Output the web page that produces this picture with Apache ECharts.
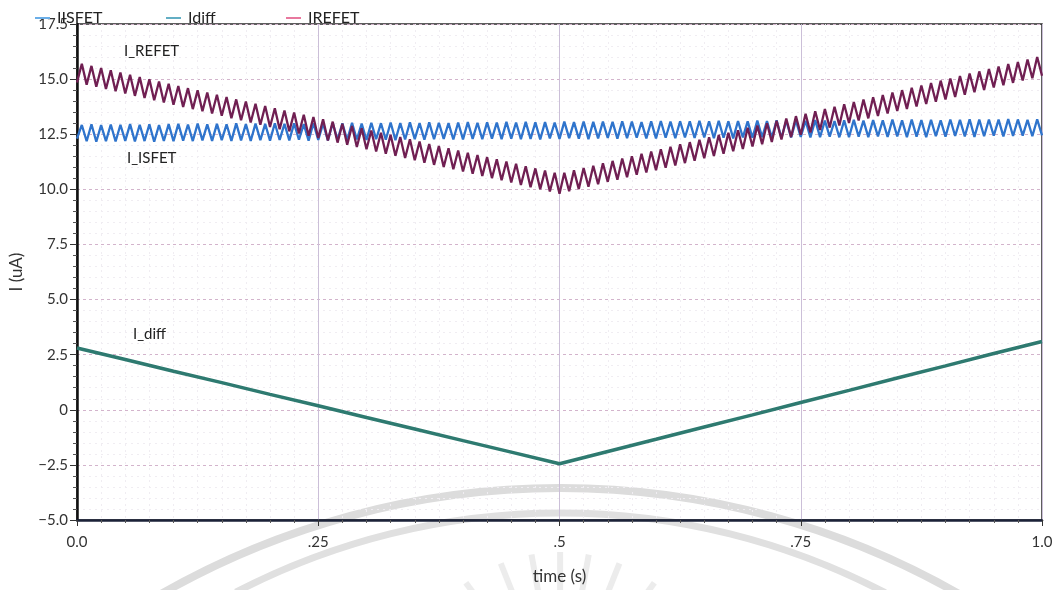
<!DOCTYPE html>
<html>
<head>
<meta charset="utf-8">
<script src="https://cdn.jsdelivr.net/npm/echarts@6/dist/echarts.min.js"></script>
<style>
  html, body { margin: 0; padding: 0; background: #fff; }
  #chart { width: 1059px; height: 590px; }
</style>
</head>
<body>
<div id="chart"></div>
<script>
// sample step of the transient simulation (s)
const dtFast = 0.005;
const dtDiff = 0.05;

// I_ISFET (uA), one value per half ripple
const isfet = [
  12.30, 12.92, 12.18, 12.95, 12.16, 12.91, 12.19, 12.94, 12.17, 12.93,
  12.20, 12.96, 12.17, 12.93, 12.19, 12.95, 12.16, 12.92, 12.20, 12.96,
  12.18, 12.97, 12.21, 12.94, 12.19, 12.98, 12.22, 12.95, 12.20, 12.97,
  12.23, 12.95, 12.20, 12.99, 12.22, 12.96, 12.19, 12.98, 12.23, 12.97,
  12.21, 13.00, 12.24, 12.97, 12.22, 12.99, 12.25, 12.96, 12.21, 13.00,
  12.24, 12.98, 12.22, 13.01, 12.25, 12.99, 12.23, 13.02, 12.26, 12.98,
  12.24, 13.02, 12.27, 13.00, 12.25, 13.03, 12.23, 13.01, 12.26, 13.04,
  12.28, 13.01, 12.25, 13.04, 12.27, 13.02, 12.29, 13.00, 12.26, 13.03,
  12.26, 13.05, 12.29, 13.02, 12.27, 13.04, 12.30, 13.03, 12.28, 13.06,
  12.30, 13.03, 12.27, 13.06, 12.29, 13.04, 12.26, 13.05, 12.31, 13.03,
  12.29, 13.07, 12.32, 13.05, 12.30, 13.08, 12.28, 13.06, 12.31, 13.07,
  12.33, 13.06, 12.30, 13.09, 12.32, 13.07, 12.34, 13.05, 12.31, 13.08,
  12.31, 13.10, 12.34, 13.07, 12.32, 13.09, 12.35, 13.08, 12.33, 13.11,
  12.35, 13.08, 12.32, 13.11, 12.34, 13.09, 12.31, 13.10, 12.36, 13.08,
  12.34, 13.12, 12.37, 13.10, 12.35, 13.13, 12.33, 13.11, 12.36, 13.12,
  12.38, 13.11, 12.35, 13.14, 12.37, 13.12, 12.39, 13.10, 12.36, 13.13,
  12.36, 13.15, 12.39, 13.12, 12.37, 13.14, 12.40, 13.13, 12.38, 13.16,
  12.40, 13.13, 12.37, 13.16, 12.39, 13.14, 12.36, 13.15, 12.41, 13.13,
  12.39, 13.17, 12.42, 13.15, 12.40, 13.18, 12.38, 13.16, 12.41, 13.17,
  12.43, 13.16, 12.40, 13.19, 12.42, 13.17, 12.44, 13.15, 12.41, 13.18,
  12.45
];

// I_REFET (uA)
const refet = [
  14.85, 15.70, 14.75, 15.60, 14.65, 15.50, 14.55, 15.40, 14.45, 15.30,
  14.35, 15.20, 14.24, 15.09, 14.14, 14.99, 14.04, 14.89, 13.94, 14.79,
  13.84, 14.69, 13.74, 14.59, 13.64, 14.49, 13.54, 14.39, 13.44, 14.29,
  13.34, 14.19, 13.23, 14.08, 13.13, 13.98, 13.03, 13.88, 12.93, 13.78,
  12.83, 13.68, 12.73, 13.58, 12.63, 13.48, 12.53, 13.38, 12.43, 13.28,
  12.33, 13.18, 12.22, 13.07, 12.12, 12.97, 12.02, 12.87, 11.92, 12.77,
  11.82, 12.67, 11.72, 12.57, 11.62, 12.47, 11.52, 12.37, 11.42, 12.27,
  11.32, 12.17, 11.21, 12.06, 11.11, 11.96, 11.01, 11.86, 10.91, 11.76,
  10.81, 11.66, 10.71, 11.56, 10.61, 11.46, 10.51, 11.36, 10.41, 11.26,
  10.31, 11.16, 10.20, 11.05, 10.10, 10.95, 10.00, 10.85, 9.90, 10.75,
  9.80,
  10.75, 9.91, 10.86, 10.01, 10.97, 10.12, 11.07, 10.23, 11.18, 10.34,
  11.29, 10.44, 11.40, 10.55, 11.50, 10.66, 11.61, 10.76, 11.72, 10.87,
  11.82, 10.98, 11.93, 11.08, 12.04, 11.19, 12.14, 11.30, 12.25, 11.41,
  12.36, 11.51, 12.47, 11.62, 12.57, 11.73, 12.68, 11.83, 12.79, 11.94,
  12.89, 12.05, 13.00, 12.15, 13.11, 12.26, 13.21, 12.37, 13.32, 12.48,
  13.43, 12.58, 13.54, 12.69, 13.64, 12.80, 13.75, 12.90, 13.86, 13.01,
  13.96, 13.12, 14.07, 13.22, 14.18, 13.33, 14.28, 13.44, 14.39, 13.55,
  14.50, 13.65, 14.61, 13.76, 14.71, 13.87, 14.82, 13.97, 14.93, 14.08,
  15.03, 14.19, 15.14, 14.29, 15.25, 14.40, 15.35, 14.51, 15.46, 14.62,
  15.57, 14.72, 15.68, 14.83, 15.78, 14.94, 15.89, 15.04, 16.00, 15.15
];

// I_diff (uA), every 50 ms
const idiff = [
  2.80, 2.28, 1.75, 1.23, 0.70, 0.18, -0.35, -0.87, -1.40, -1.92,
  -2.45, -1.89, -1.34, -0.78, -0.23, 0.33, 0.88, 1.44, 1.99, 2.55, 3.10
];

const FONT = 'Lato';

function withTime(values, dt) {
  return values.map((v, i) => [+(i * dt).toFixed(4), v]);
}

const chart = echarts.init(document.getElementById('chart'));

const legendBase = {
  top: 5,
  itemWidth: 15,
  itemHeight: 2,
  icon: 'rect',
  selectedMode: false,
  textStyle: { fontFamily: FONT, fontSize: 16, color: '#222', padding: [0, 0, 0, 2] }
};

// watermark of the scanned page
const rays = [-2.2, -1.95, -1.75, -1.57, -1.39, -1.19, -0.94].map(a => ({
  type: 'line',
  silent: true,
  z: -1,
  shape: {
    x1: 560 + 105 * Math.cos(a), y1: 712 + 105 * Math.sin(a),
    x2: 560 + 160 * Math.cos(a), y2: 712 + 160 * Math.sin(a)
  },
  style: { stroke: '#ececec', lineWidth: 6 }
}));

chart.setOption({
  animation: false,
  backgroundColor: '#fff',
  legend: [
    Object.assign({}, legendBase, { left: 30, data: [{ name: 'IISFET', itemStyle: { color: '#6aaee8' } }] }),
    Object.assign({}, legendBase, { left: 161, data: [{ name: 'Idiff', itemStyle: { color: '#63aec4' } }] }),
    Object.assign({}, legendBase, { left: 281, data: [{ name: 'IREFET', itemStyle: { color: '#e8789e' } }] })
  ],
  grid: {
    left: 77, right: 17, top: 24, bottom: 70,
    show: true,
    borderColor: '#2a2a2a',
    borderWidth: 1.5,
    backgroundColor: 'transparent'
  },
  xAxis: {
    type: 'value',
    min: 0, max: 1, interval: 0.25,
    name: 'time (s)',
    nameLocation: 'middle',
    nameGap: 48,
    nameTextStyle: { fontFamily: FONT, fontSize: 17, color: '#333' },
    axisLine: { onZero: false, lineStyle: { color: '#1b2238', width: 2.5 } },
    axisTick: { length: 6, lineStyle: { color: '#333' } },
    minorTick: { show: true, splitNumber: 10, length: 3, lineStyle: { color: '#555' } },
    axisLabel: {
      margin: 15,
      fontFamily: FONT, fontSize: 15, color: '#333',
      formatter: v => (v === 0 ? '0.0' : v === 1 ? '1.0' : String(v).replace('0.', '.'))
    },
    splitLine: { lineStyle: { color: '#cbbfd8', width: 1 } },
    minorSplitLine: { show: true, lineStyle: { color: '#f0edf2', type: [2, 4] } }
  },
  yAxis: {
    type: 'value',
    min: -5, max: 17.5, interval: 2.5,
    name: 'I (uA)',
    nameLocation: 'middle',
    nameGap: 52,
    nameTextStyle: { fontFamily: FONT, fontSize: 17, color: '#333' },
    axisLine: { show: true, onZero: false, lineStyle: { color: '#111', width: 2.5 } },
    axisTick: { show: true, length: 7, lineStyle: { color: '#333' } },
    minorTick: { show: true, splitNumber: 5, length: 4, lineStyle: { color: '#555' } },
    axisLabel: {
      margin: 9,
      fontFamily: FONT, fontSize: 15, color: '#333',
      formatter: v => (v === 0 ? '0' : v.toFixed(1).replace('-', '\u2212'))
    },
    splitLine: { lineStyle: { color: '#d3b4cc', width: 1, type: [3, 3] } },
    minorSplitLine: { show: true, lineStyle: { color: '#f0edf2', type: [2, 4] } }
  },
  graphic: [
    {
      type: 'arc', silent: true, z: -1,
      shape: { cx: 560, cy: 1292, r: 804, startAngle: -2.09, endAngle: -1.05 },
      style: { stroke: '#dcdcdc', lineWidth: 8, fill: null }
    },
    {
      type: 'arc', silent: true, z: -1,
      shape: { cx: 560, cy: 1216, r: 703, startAngle: -2.05, endAngle: -1.09 },
      style: { stroke: '#e0e0e0', lineWidth: 7, fill: null }
    }
  ].concat(rays).concat([
    { type: 'text', left: 124, top: 44, z: 10, style: { text: 'I_REFET', font: '15px ' + FONT, fill: '#222' } },
    { type: 'text', left: 127, top: 151, z: 10, style: { text: 'I_ISFET', font: '15px ' + FONT, fill: '#222' } },
    { type: 'text', left: 133, top: 327, z: 10, style: { text: 'I_diff', font: '15px ' + FONT, fill: '#222' } }
  ]),
  series: [
    {
      name: 'IISFET', type: 'line', showSymbol: false,
      data: withTime(isfet, dtFast),
      lineStyle: { color: '#2f74cc', width: 2.3 },
      itemStyle: { color: '#2f74cc' }
    },
    {
      name: 'Idiff', type: 'line', showSymbol: false,
      data: withTime(idiff, dtDiff),
      lineStyle: { color: '#2e7a70', width: 3.5 },
      itemStyle: { color: '#2e7a70' }
    },
    {
      name: 'IREFET', type: 'line', showSymbol: false,
      data: withTime(refet, dtFast),
      lineStyle: { color: '#701f52', width: 2.3 },
      itemStyle: { color: '#701f52' }
    }
  ]
});
</script>
</body>
</html>
